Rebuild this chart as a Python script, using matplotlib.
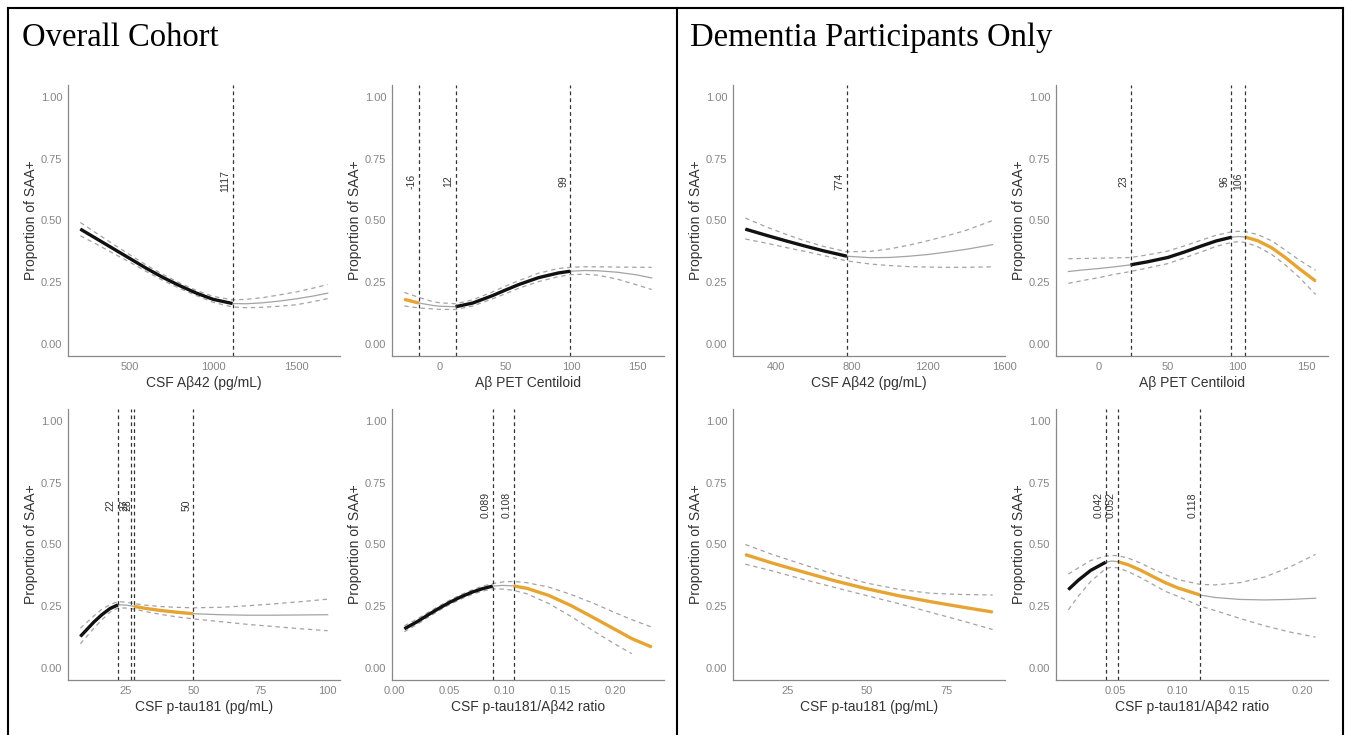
import numpy as np
import matplotlib
matplotlib.use('Agg')
import matplotlib.pyplot as plt
from matplotlib.lines import Line2D

plt.rcParams['font.family'] = ['Liberation Sans', 'DejaVu Sans']

BLACK = '#111111'
ORANGE = '#E6A533'
GREY = '#A3A3A3'

# ---------------- Overall cohort ----------------
# CSF Abeta42
ab42_all_x = [200, 300, 400, 500, 600, 700, 800, 900, 1000, 1117, 1200, 1300, 1400, 1500, 1600, 1690]
ab42_all_fit = [.465, .425, .385, .345, .305, .268, .235, .205, .180, .163, .162, .166, .173, .182, .193, .205]
ab42_all_hi = [.492, .447, .403, .360, .318, .280, .246, .216, .192, .178, .180, .187, .198, .210, .225, .240]
ab42_all_lo = [.438, .403, .366, .330, .292, .256, .224, .195, .168, .149, .146, .148, .152, .158, .170, .183]
ab42_all_cuts = [1117]
ab42_all_segs = [(200, 1117, BLACK)]

# Abeta PET centiloid
pet_all_x = [-27, -16, -5, 0, 12, 25, 40, 50, 60, 75, 90, 99, 110, 120, 135, 150, 161]
pet_all_fit = [.180, .165, .155, .152, .150, .165, .195, .218, .240, .268, .287, .294, .297, .296, .290, .279, .267]
pet_all_hi = [.208, .188, .170, .166, .162, .178, .210, .234, .256, .286, .305, .310, .312, .312, .311, .310, .310]
pet_all_lo = [.153, .145, .141, .139, .139, .153, .182, .203, .225, .252, .272, .280, .282, .278, .262, .238, .220]
pet_all_cuts = [-16, 12, 99]
pet_all_segs = [(-27, -16, ORANGE), (12, 99, BLACK)]

# CSF p-tau181
ptau_all_x = [8, 10, 13, 16, 19, 22, 25, 28, 32, 38, 44, 50, 60, 70, 80, 90, 100]
ptau_all_fit = [.127, .150, .185, .215, .240, .255, .254, .249, .241, .232, .225, .219, .215, .213, .213, .214, .215]
ptau_all_hi = [.160, .180, .210, .237, .256, .268, .266, .260, .254, .248, .245, .243, .245, .251, .259, .268, .278]
ptau_all_lo = [.097, .122, .160, .194, .225, .243, .242, .238, .228, .216, .206, .198, .187, .176, .167, .158, .150]
ptau_all_cuts = [22, 27, 28, 50]
ptau_all_segs = [(8, 22, BLACK), (28, 50, ORANGE)]

# CSF p-tau181/Abeta42 ratio
ratio_all_x = [.009, .02, .03, .04, .05, .06, .07, .08, .089, .098, .108, .12, .14, .16, .18, .20, .215, .233]
ratio_all_fit = [.158, .185, .213, .240, .265, .287, .306, .321, .331, .334, .332, .322, .293, .252, .204, .155, .118, .084]
ratio_all_hi = [.170, .196, .223, .249, .274, .296, .315, .331, .341, .348, .350, .345, .327, .297, .262, .223, .195, .165]
ratio_all_lo = [.146, .174, .203, .231, .256, .278, .297, .311, .320, .319, .314, .300, .260, .208, .150, .095, .057, np.nan]
ratio_all_cuts = [.089, .108]
ratio_all_segs = [(.009, .089, BLACK), (.108, .233, ORANGE)]

# ---------------- Dementia participants only ----------------
ab42_dem_x = [240, 350, 450, 550, 650, 774, 900, 1000, 1100, 1200, 1300, 1400, 1540]
ab42_dem_fit = [.465, .440, .418, .397, .377, .355, .349, .350, .355, .362, .372, .383, .402]
ab42_dem_hi = [.510, .474, .445, .418, .395, .373, .375, .385, .400, .418, .438, .460, .500]
ab42_dem_lo = [.425, .408, .391, .375, .358, .336, .323, .317, .313, .311, .310, .310, .312]
ab42_dem_cuts = [774]
ab42_dem_segs = [(240, 774, BLACK)]

pet_dem_x = [-22, -10, 0, 10, 23, 35, 50, 62, 74, 85, 96, 101, 106, 115, 125, 135, 145, 157]
pet_dem_fit = [.293, .300, .305, .311, .320, .332, .350, .372, .396, .417, .432, .435, .433, .418, .390, .350, .305, .254]
pet_dem_hi = [.345, .346, .347, .348, .350, .360, .376, .397, .420, .440, .454, .456, .455, .443, .418, .380, .340, .298]
pet_dem_lo = [.245, .258, .268, .280, .293, .307, .325, .348, .372, .395, .411, .414, .411, .394, .363, .320, .270, .200]
pet_dem_cuts = [23, 96, 106]
pet_dem_segs = [(23, 96, BLACK), (106, 157, ORANGE)]

ptau_dem_x = [11.6, 20, 30, 40, 50, 60, 70, 80, 89.6]
ptau_dem_fit = [.459, .425, .388, .352, .320, .292, .268, .246, .226]
ptau_dem_hi = [.500, .460, .418, .378, .343, .318, .302, .297, .295]
ptau_dem_lo = [.420, .393, .358, .325, .292, .260, .225, .190, .155]
ptau_dem_cuts = []
ptau_dem_segs = [(11.6, 89.6, ORANGE)]

ratio_dem_x = [.012, .02, .03, .042, .047, .052, .06, .07, .08, .09, .10, .118, .13, .15, .17, .19, .211]
ratio_dem_fit = [.317, .355, .395, .428, .433, .430, .418, .396, .370, .345, .324, .295, .285, .277, .275, .277, .282]
ratio_dem_hi = [.380, .405, .435, .453, .456, .454, .445, .425, .400, .378, .358, .338, .336, .345, .368, .408, .460]
ratio_dem_lo = [.235, .290, .350, .402, .408, .405, .390, .366, .338, .310, .290, .250, .232, .200, .170, .145, .124]
ratio_dem_cuts = [.042, .052, .118]
ratio_dem_segs = [(.012, .042, BLACK), (.052, .118, ORANGE)]

yticks = [0, 0.25, 0.5, 0.75, 1.0]
xlab_ab42 = 'CSF A\u03b242 (pg/mL)'
xlab_pet = 'A\u03b2 PET Centiloid'
xlab_ptau = 'CSF p-tau181 (pg/mL)'
xlab_ratio = 'CSF p-tau181/A\u03b242 ratio'

panels = [
    (ab42_all_x, ab42_all_fit, ab42_all_lo, ab42_all_hi, ab42_all_segs, ab42_all_cuts, [500, 1000, 1500], '{:.0f}', xlab_ab42),
    (pet_all_x, pet_all_fit, pet_all_lo, pet_all_hi, pet_all_segs, pet_all_cuts, [0, 50, 100, 150], '{:.0f}', xlab_pet),
    (ptau_all_x, ptau_all_fit, ptau_all_lo, ptau_all_hi, ptau_all_segs, ptau_all_cuts, [25, 50, 75, 100], '{:.0f}', xlab_ptau),
    (ratio_all_x, ratio_all_fit, ratio_all_lo, ratio_all_hi, ratio_all_segs, ratio_all_cuts, [0, .05, .10, .15, .20], '{:.2f}', xlab_ratio),
    (ab42_dem_x, ab42_dem_fit, ab42_dem_lo, ab42_dem_hi, ab42_dem_segs, ab42_dem_cuts, [400, 800, 1200, 1600], '{:.0f}', xlab_ab42),
    (pet_dem_x, pet_dem_fit, pet_dem_lo, pet_dem_hi, pet_dem_segs, pet_dem_cuts, [0, 50, 100, 150], '{:.0f}', xlab_pet),
    (ptau_dem_x, ptau_dem_fit, ptau_dem_lo, ptau_dem_hi, ptau_dem_segs, ptau_dem_cuts, [25, 50, 75], '{:.0f}', xlab_ptau),
    (ratio_dem_x, ratio_dem_fit, ratio_dem_lo, ratio_dem_hi, ratio_dem_segs, ratio_dem_cuts, [.05, .10, .15, .20], '{:.2f}', xlab_ratio),
]

W, H = 1347, 735
fig = plt.figure(figsize=(W / 100, H / 100), dpi=100)

# panel boxes in pixels: left, top, width, height
lefts = [68, 392, 68, 392, 733, 1056, 733, 1056]
tops = [85, 85, 409, 409, 85, 85, 409, 409]
aw, ah = 272, 271


def draw_panel(ax, x, fit, lo, hi, segs, cuts, xticks, fmt, xlabel):
    x = np.array(x, float)
    fit = np.array(fit, float)
    pad = 0.05 * (x.max() - x.min())
    ax.set_xlim(x.min() - pad, x.max() + pad)
    ax.set_ylim(-0.05, 1.05)

    dash = (0, (3.5, 3))
    ax.plot(x, lo, color=GREY, lw=0.9, ls=dash)
    ax.plot(x, hi, color=GREY, lw=0.9, ls=dash)
    ax.plot(x, fit, color=GREY, lw=0.9)
    for a, b, c in segs:
        m = (x >= a) & (x <= b)
        ax.plot(x[m], fit[m], color=c, lw=2.4, solid_capstyle='butt')

    for v in cuts:
        ax.axvline(v, color='#333333', lw=0.9, ls=(0, (3, 2.5)))
        ax.annotate(f'{v:g}', xy=(v, 0.66), xytext=(-1.5, 0), textcoords='offset points',
                    rotation=90, ha='right', va='center', fontsize=7.5, color='#333333')

    ax.set_yticks(yticks)
    ax.set_yticklabels([f'{t:.2f}' for t in yticks])
    ax.set_xticks(xticks)
    ax.set_xticklabels([fmt.format(t) for t in xticks])
    ax.tick_params(length=0, labelsize=8, labelcolor='#858585', pad=4)
    ax.set_xlabel(xlabel, fontsize=10, color='#333333', labelpad=3)
    ax.set_ylabel('Proportion of SAA+', fontsize=10, color='#333333', labelpad=2)
    for s in ['top', 'right']:
        ax.spines[s].set_visible(False)
    for s in ['left', 'bottom']:
        ax.spines[s].set_color('#888888')
        ax.spines[s].set_linewidth(0.9)


for i, p in enumerate(panels):
    ax = fig.add_axes([lefts[i] / W, 1 - (tops[i] + ah) / H, aw / W, ah / H])
    draw_panel(ax, *p)

# section titles
fig.text(22 / W, 1 - 38 / H, 'Overall Cohort', family='Liberation Serif', fontsize=23.5, va='center')
fig.text(690 / W, 1 - 38 / H, 'Dementia Participants Only', family='Liberation Serif', fontsize=23.5, va='center')

# frame lines
frame = [((8, 1343), (8, 8)), ((8, 8), (8, 735)), ((677, 677), (8, 735)), ((1343, 1343), (8, 735))]
for xs, ys in frame:
    fig.add_artist(Line2D([xs[0] / W, xs[1] / W], [1 - ys[0] / H, 1 - ys[1] / H],
                          color='black', lw=1.5, transform=fig.transFigure))

fig.savefig('out.png', dpi=100)
